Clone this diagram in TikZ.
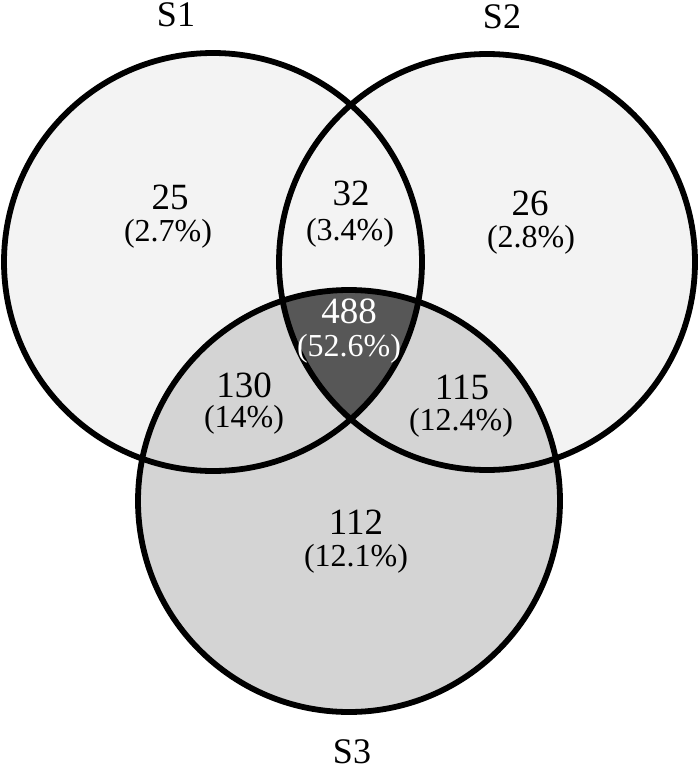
\documentclass[tikz,border=0pt]{standalone}
\usepackage{fontspec}
\setmainfont{Liberation Serif}
\definecolor{lightfill}{HTML}{F3F3F3}
\definecolor{midfill}{HTML}{D4D4D4}
\definecolor{darkfill}{HTML}{575757}
\begin{document}
\begin{tikzpicture}[x=1pt,y=-1pt,
  ring/.style={draw=black,line width=5.8pt},
  num/.style={inner sep=0pt,font=\fontsize{37}{40}\selectfont},
  pct/.style={inner sep=0pt,font=\fontsize{32}{35}\selectfont},
  setlabel/.style={inner sep=0pt,font=\fontsize{36}{40}\selectfont}]
\useasboundingbox (0,0) rectangle (700,771);
% centres
\coordinate (c1) at (213,262);
\coordinate (c2) at (487,262);
\coordinate (c3) at (349,501);
% fills
\fill[lightfill] (c1) circle[radius=209pt];
\fill[lightfill] (c2) circle[radius=208pt];
\fill[midfill] (c3) circle[radius=211pt];
\begin{scope}
  \clip (c1) circle[radius=209pt];
  \clip (c2) circle[radius=208pt];
  \fill[darkfill] (c3) circle[radius=211pt];
\end{scope}
% outlines
\draw[ring] (c1) circle[radius=209pt];
\draw[ring] (c2) circle[radius=208pt];
\draw[ring] (c3) circle[radius=211pt];
% set labels
\node[setlabel] (l1) at (176,15) {S1};
\node[setlabel] (l2) at (502,17) {S2};
\node[setlabel] (l3) at (352,752) {S3};
% region values
\node[num] (n25) at (170,197) {25};
\node[pct] (p25) at (168,234) {(2.7\%)};
\node[num] (n32) at (351,193) {32};
\node[pct] (p32) at (350,233) {(3.4\%)};
\node[num] (n26) at (530,203) {26};
\node[pct] (p26) at (531,240) {(2.8\%)};
\node[num,text=white] (n488) at (349,311) {488};
\node[pct,text=white] (p488) at (349,349) {(52.6\%)};
\node[num] (n130) at (244,385) {130};
\node[pct] (p130) at (244,420) {(14\%)};
\node[num] (n115) at (462,387) {115};
\node[pct] (p115) at (461,423) {(12.4\%)};
\node[num] (n112) at (356,522) {112};
\node[pct] (p112) at (356,559) {(12.1\%)};
\end{tikzpicture}
\end{document}
